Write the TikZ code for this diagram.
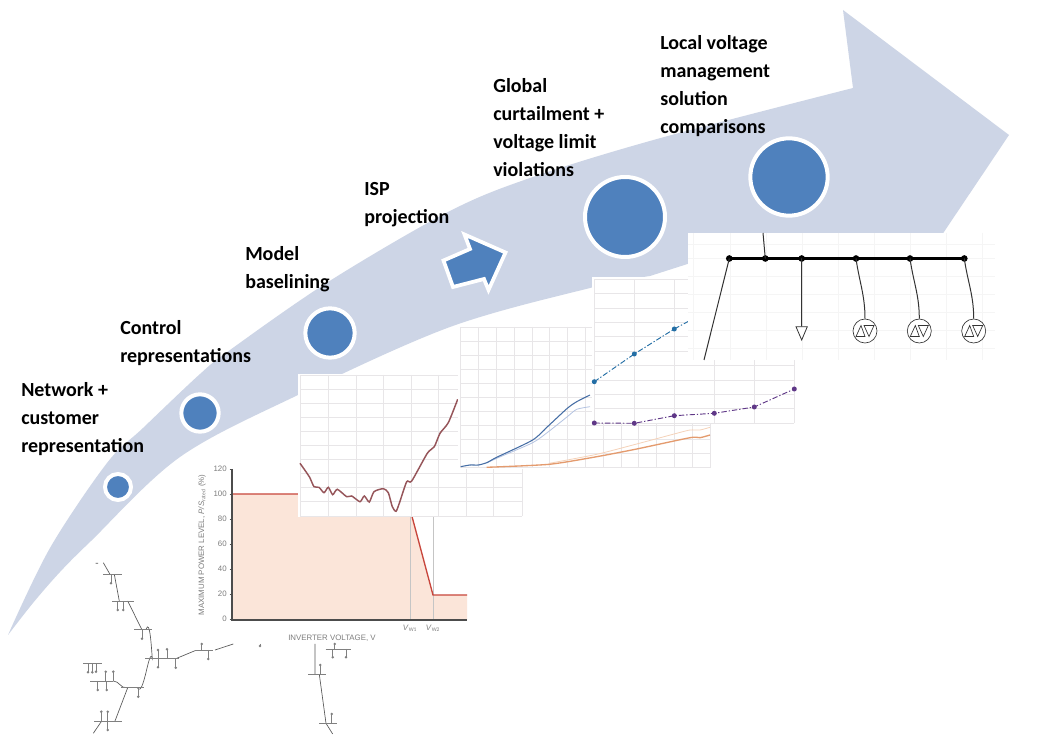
\documentclass[tikz,border=0pt]{standalone}
\usepackage{fontspec}
\setmainfont{Carlito}
\newfontfamily\axisfont{Liberation Sans}
\usetikzlibrary{arrows.meta,positioning,calc}
\definecolor{bandblue}{RGB}{205,213,230}
\definecolor{stepblue}{RGB}{79,129,189}
\definecolor{gridgray}{RGB}{232,230,232}
\definecolor{faintgray}{RGB}{245,245,245}
\definecolor{axisgray}{RGB}{125,125,125}
\definecolor{limitred}{RGB}{200,70,60}
\definecolor{limitfill}{RGB}{251,229,217}
\definecolor{curvebrown}{RGB}{150,85,90}
\definecolor{lineblue}{RGB}{70,110,165}
\definecolor{lightblue}{RGB}{180,195,225}
\definecolor{lineorange}{RGB}{228,155,110}
\definecolor{lightorange}{RGB}{245,210,185}
\definecolor{dotblue}{RGB}{35,110,165}
\definecolor{dotpurple}{RGB}{95,55,135}
\tikzset{
  steplabel/.style={anchor=north west,inner sep=0pt,align=left,text=black,font=\fontsize{15}{21}\selectfont\bfseries},
  stepcirc/.style={circle,draw=white,fill=stepblue,inner sep=0pt,line width=3pt},
  gridline/.style={gridgray,line width=0.7pt},
  ticklabel/.style={inner sep=0pt,text=axisgray,font=\axisfont\fontsize{5.9}{7}\selectfont},
  feeder/.style={black!65,line width=0.5pt},
  stub/.style={black!50,line width=0.4pt},
  busdot/.style={circle,fill=black,inner sep=0pt,minimum size=5pt},
  inverter/.style={circle,draw=black!80,fill=white,line width=0.5pt,inner sep=0pt,minimum size=18pt}
}
\begin{document}
\begin{tikzpicture}[x=0.75pt,y=-0.75pt]
  \useasboundingbox (0,0) rectangle (1040,755);
  \fill[white] (0,0) rectangle (1040,755);
  %% Big curved arrow
  \fill[bandblue] plot[smooth,tension=0.55] coordinates {(8,635) (50,548) (107,463) (143,428) (200,374) (230,350) (328,282) (448,212) (530,178) (657,139) (853,88)}
    -- (843,10) -- (1009,135) -- (905,290) -- (700,260)
    -- plot[smooth,tension=0.55] coordinates {(650,276) (590,288) (450,327) (298,395) (180,457) (91,541) (60,572) (33,603) (8,635)} -- cycle;
  %% Steps on the arrow
  \node[stepcirc,minimum size=19.5pt] (net) at (118,487) {};
  \node[stepcirc,minimum size=28pt] (ctrl) at (200,413) {};
  \node[stepcirc,minimum size=37pt] (base) at (330,333) {};
  \node[stepcirc,minimum size=60pt] (glob) at (625,217) {};
  \node[stepcirc,minimum size=58pt] (local) at (789,177) {};
  \draw[fill=stepblue,draw=white,line width=2.8pt,line join=miter] (443.5,260.5) -- (470,249) -- (464.5,234.5) -- (505.5,252.5) -- (488.5,290) -- (484,279) -- (453,287) -- cycle;
  %% Feeder sketch
  \draw[feeder] (95.7,563.3) -- (98,563.3) (103.3,562.7) -- (110,574.3) (114.3,574.3) -- (119.3,601) (127.7,601) -- (141.7,629.3);
  \draw[feeder] (146,629.3) to[out=70,in=95] (152.3,658.3) to[out=105,in=-60] (137.3,687.7);
  \draw[feeder] (127.7,687.7) -- (115,721) (101.7,721) -- (93.3,733.3) (126.7,687.7) to[out=190,in=0] (113.3,681);
  \draw[feeder] (176.7,658.3) -- (195,650.7) (215,650) -- (233.3,644);
  \draw[feeder] (315,644) -- (315,674.3) (319.3,674.3) -- (326,723.3) -- (332.7,734);
  \foreach \xa/\xb/\ya in {103.3/121.7/574.3,112.3/134.3/601,134/151.7/629.3,145/179.3/658.3,121/144/687.7,94.3/121.7/721,90/113.3/681,83.3/101.7/663.3,195/213.3/650,308.3/326/674.3,319.3/337.3/723.3,325.7/350.7/649}
    \draw[stub] (\xa,\ya) -- (\xb,\ya);
  \foreach \xa/\ya/\yb in {111/574.3/583.3,117.7/601/610,123.3/601/610,142/629.3/638.7,158/658.3/667.3,158/658.3/650,167/658.3/649.3,175.7/658.3/667.7,208.3/650/659,201.7/650/644,138.3/687.7/696.7,97.7/681/690,106.7/681/690,105.7/681/671.7,113.3/681/671.7,88/663.3/672.3,92.3/663.3/672.3,96/663.3/671.7,101.3/721/711.7,107.7/721/711.7,107.7/721/730,320.3/674.3/665,331.7/723.3/714,334.7/649/644,332.7/649/657.3,346/649/657.3,260/644/646}
    {\draw[stub] (\xa,\ya) -- (\xa,\yb); \fill[black!50] (\xa,\yb) circle (1.4);}
  %% Inverter curve
  \fill[limitfill] (232,494) -- (406,494) -- (433,595) -- (467,595) -- (467,620) -- (232,620) -- cycle;
  \draw[axisgray!45,line width=0.4pt] (410,494) -- (410,620) (433,494) -- (433,620);
  \draw[limitred,line width=1pt] (232,494) -- (406,494) -- (433,595) -- (467,595);
  \draw[black!70,line width=0.8pt] (232,469) -- (232,620) -- (467,620);
  \foreach \yv/\lab in {619/0,594/20,569/40,544/60,519/80,494/100,469/120}
    {\draw[black!70,line width=0.5pt] (229.5,\yv) -- (232,\yv); \node[ticklabel,anchor=east] (tick\lab) at (227,\yv) {\lab};}
  \node[ticklabel,rotate=90] (ylabel) at (202,545) {MAXIMUM POWER LEVEL, \textit{P/S}$_{\mathrm{rated}}$ (\%)};
  \node[ticklabel] (xlabel) at (332,638) {INVERTER VOLTAGE, V};
  \node[ticklabel] (vw1) at (410,628) {\textit{V}$_{\mathrm{W1}}$};
  \node[ticklabel] (vw2) at (433,628) {\textit{V}$_{\mathrm{W2}}$};
  %% Baseline plot
  \fill[white] (298,374) rectangle (522,517);
  \foreach \xg in {300,328,356,383,411,438,466,493,522} \draw[gridline] (\xg,375) -- (\xg,516);
  \foreach \yg in {375,389,403,417,431,445,459,473,487,501,516} \draw[gridline] (300,\yg) -- (522,\yg);
  \draw[curvebrown,line width=1.1pt] plot[smooth,tension=0.4] coordinates {(300,463.3) (309.3,476.7) (314,486.7) (319,487.3) (324,492.7) (328.3,487.3) (332.7,494.7) (337.3,489.3) (346.7,496.7) (351.7,496) (360,501.7) (364.3,496) (369.3,502) (374,491.7) (383.3,488.7) (388.3,492.7) (392.3,506.7) (396,511.3) (399.3,503.3) (406.7,481.7) (411.7,481) (427.3,453.3) (434.3,446.7) (440,433.3) (448.3,422.7) (457.7,399.3)};
  %% Projection plot
  \fill[white] (458,325) rectangle (712,469);
  \foreach \xg in {460.7,478.7,496.7,514.7,532.7,549.3,567.3,585.3,603.3,621.3,638.7,656.7,674.3,692.3,710} \draw[gridline] (\xg,327) -- (\xg,468);
  \foreach \yg in {327,341,355.5,369.5,383.5,397.5,411.5,425.5,439.5,453.5,467.7} \draw[gridline] (460.7,\yg) -- (710,\yg);
  \draw[lightblue,line width=0.6pt] plot[smooth,tension=0.4] coordinates {(486.7,463) (496.7,458.3) (532.7,442.7) (549.3,431) (567.3,416.7) (576.7,409.3) (590,406.7)};
  \draw[lineblue,line width=0.8pt] plot[smooth,tension=0.4] coordinates {(460.7,466.7) (470,465) (478.3,465) (486.7,462.7) (496.7,457.3) (532.7,440) (549.3,425) (567.3,408.3) (576.7,401.7) (590,395)};
  \draw[lightorange,line width=0.6pt] plot[smooth,tension=0.4] coordinates {(549.3,463.3) (596.7,454.3) (636.7,444) (676.7,433.3) (690,430) (700,430) (710,427.3)};
  \draw[lineorange,line width=1pt] plot[smooth,tension=0.4] coordinates {(486.7,467.3) (549.3,464.3) (596.7,456.7) (636.7,449) (690,437.7) (700,437.7) (710,435)};
  %% Curtailment plot
  \fill[white] (592,277) rectangle (795.5,424.5);
  \foreach \xg in {594.3,634.3,674.3,714.3,754.3,794.3} \draw[gridline] (\xg,279.3) -- (\xg,423.3);
  \foreach \yg in {279.3,293.7,308.1,322.5,336.9,351.3,365.7,380.1,394.5,408.9,423.3} \draw[gridline] (594.3,\yg) -- (794.3,\yg);
  \draw[dotblue,line width=0.7pt,dash pattern=on 4pt off 1.5pt on 1pt off 1.5pt] (594.3,381.7) -- (634.3,354) -- (674.3,329) -- (700,315);
  \foreach \xd/\yd in {594.3/381.7,634.3/354,674.3/329} \fill[dotblue] (\xd,\yd) circle (2.5);
  \draw[dotpurple,line width=0.7pt,dash pattern=on 4pt off 1.5pt on 1pt off 1.5pt] (594.3,423) -- (634.3,423.3) -- (674.3,415.7) -- (714.3,413.3) -- (754.3,407) -- (794.3,389);
  \foreach \xd/\yd in {594.3/423,634.3/423.3,674.3/415.7,714.3/413.3,754.3/407,794.3/389} \fill[dotpurple] (\xd,\yd) circle (2.5);
  %% Network plot
  \fill[white] (688,233) rectangle (995,360);
  \foreach \xg in {693,730,766,802,838,874,910,946,982} \draw[faintgray,line width=0.4pt] (\xg,233) -- (\xg,360);
  \foreach \yg in {244,258,276,294,312,330,348} \draw[faintgray,line width=0.4pt] (688,\yg) -- (995,\yg);
  \node[busdot] (bus1) at (729.3,258.5) {};
  \node[busdot] (bus2) at (765.3,258.5) {};
  \node[busdot] (bus3) at (801.7,258.5) {};
  \node[busdot] (bus4) at (856,258.5) {};
  \node[busdot] (bus5) at (910,258.5) {};
  \node[busdot] (bus6) at (964.3,258.5) {};
  \draw[black,line width=1.7pt] (bus1.center) -- (bus2.center) -- (bus3.center) -- (bus4.center) -- (bus5.center) -- (bus6.center);
  \coordinate (feedin) at (763,233);
  \coordinate (feedout) at (704,360);
  \coordinate (load) at (801.7,326.7);
  \draw[black!80,line width=0.75pt] (bus2.center) -- (feedin) (bus1.center) -- (feedout) (bus3.center) -- (load);
  \draw[black!80,fill=white,line width=0.6pt] (796,326.7) -- (807.3,326.7) -- (801.7,340) -- cycle;
  \foreach \n/\bb/\xc in {1/4/865,2/5/919.3,3/6/973.7}{
    \node[inverter] (inv\n) at (\xc,331) {};
    \draw[black!80,line width=0.75pt] (bus\bb.center) to[out=-82,in=90] (inv\n.north);
    \draw[black!80,line width=0.5pt] (\xc-9,336.5) -- (\xc+0,336.5) -- (\xc-4,325.5) -- cycle (\xc+9,325.5) -- (\xc-1,325.5) -- (\xc+4,336.5) -- cycle;
  }
  %% Labels
  \node[steplabel] (lnet) at (21,382.5) {Network +\\customer\\representation};
  \node[steplabel] (lctrl) at (120,320.5) {Control\\representations};
  \node[steplabel] (lbase) at (245,246.5) {Model\\baselining};
  \node[steplabel] (lisp) at (364,182.5) {ISP\\projection};
  \node[steplabel] (lglob) at (493,78.5) {Global\\curtailment +\\voltage limit\\violations};
  \node[steplabel] (llocal) at (660,35.5) {Local voltage\\management\\solution\\comparisons};
\end{tikzpicture}
\end{document}
